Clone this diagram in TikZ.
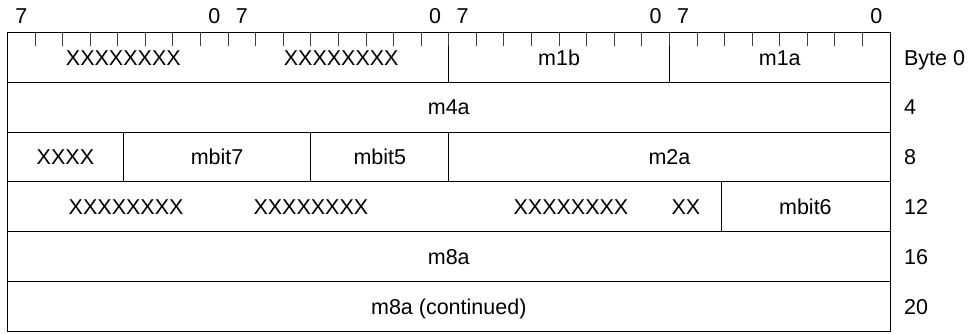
\documentclass[tikz,border=0pt]{standalone}
\usepackage{fontspec}
\setmainfont{Liberation Sans}
\begin{document}
\begin{tikzpicture}[x=27.58pt, y=-49.8pt,
  every node/.style={font=\fontsize{21.5}{25}\selectfont, inner sep=0pt, text height=15.4pt, text depth=0pt},
  regline/.style={draw=black, line width=1pt},
  tickline/.style={draw=black!75, line width=1pt}]
  \useasboundingbox (0pt,0pt) rectangle (968pt,-333pt);
  \begin{scope}[shift={(7.5pt,-32.5pt)}]
  % Frame
  \draw[regline] (0,0) rectangle (32,6);
  \foreach \r in {1,...,5}
    \draw[regline] (0,\r) -- (32,\r);
  \draw[regline] (16,0) -- (16,1);
  \draw[regline] (24,0) -- (24,1);
  \draw[regline] (4.2,2) -- (4.2,3);
  \draw[regline] (11,2) -- (11,3);
  \draw[regline] (16,2) -- (16,3);
  \draw[regline] (25.87,3) -- (25.87,4);

  % Ticks
  \foreach \b in {1,...,31}
    \draw[tickline] (\b,0) -- (\b,0.281);

  % Bit numbers
  \foreach \k in {0,...,3} {
    \node (hi\k) at (8*\k+0.5,-0.33) {7};
    \node (lo\k) at (8*\k+7.5,-0.33) {0};
  }

  % Fields
  \node (xa) at (4.2,0.5) {XXXXXXXX};
  \node (xb) at (12.1,0.5) {XXXXXXXX};
  \node (m1b) at (20,0.5) {m1b};
  \node (m1a) at (28,0.5) {m1a};
  \node (m4a) at (16,1.5) {m4a};
  \node (xxxx) at (2.1,2.5) {XXXX};
  \node (mbit7) at (7.6,2.5) {mbit7};
  \node (mbit5) at (13.5,2.5) {mbit5};
  \node (m2a) at (24,2.5) {m2a};
  \node (xc) at (4.3,3.5) {XXXXXXXX};
  \node (xd) at (11,3.5) {XXXXXXXX};
  \node (xe) at (20.43,3.5) {XXXXXXXX};
  \node (xx) at (24.6,3.5) {XX};
  \node (mbit6) at (28.93,3.5) {mbit6};
  \node (m8a) at (16,4.5) {m8a};
  \node (m8b) at (16,5.5) {m8a (continued)};

  % Offsets
  \node[anchor=west] (off0) at (32.5,0.5) {Byte 0};
  \foreach \o [count=\r] in {4,8,12,16,20}
    \node[anchor=west] (off\o) at (32.5,\r+0.5) {\o};
  \end{scope}
\end{tikzpicture}
\end{document}
